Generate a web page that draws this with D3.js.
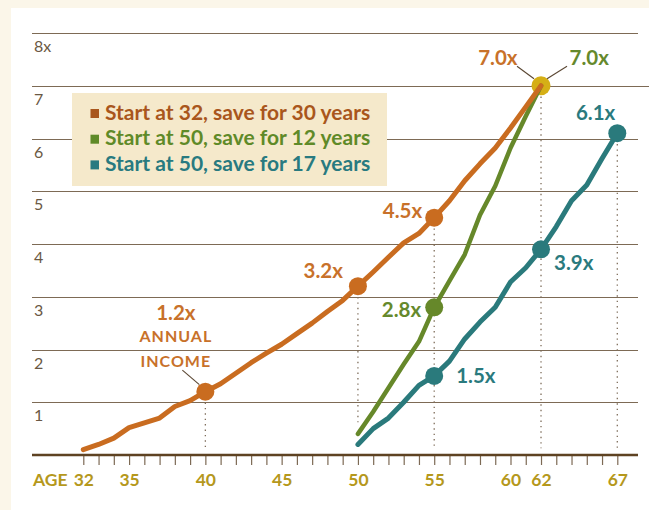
<!DOCTYPE html>
<html>
<head>
<meta charset="utf-8">
<script src="https://cdn.jsdelivr.net/npm/d3@7/dist/d3.min.js"></script>
<style>
  html, body { margin: 0; padding: 0; background: #fbf6e9; }
  svg { display: block; }
  text { font-family: Lato, "Open Sans", sans-serif; }
</style>
</head>
<body>
<svg id="chart" width="649" height="510"></svg>
<script>
// ---------------- DATA ----------------
const ages32 = d3.range(32, 63);               // 32..62
const savings32 = [0.1, 0.2, 0.32, 0.52, 0.61, 0.7, 0.92, 1.03, 1.2, 1.35,
                   1.55, 1.75, 1.93, 2.1, 2.3, 2.5, 2.72, 2.93, 3.2, 3.47,
                   3.75, 4.02, 4.2, 4.5, 4.82, 5.2, 5.52, 5.82, 6.2, 6.6, 7.0];
const ages50a = d3.range(50, 63);              // 50..62
const savings50a = [0.4, 0.82, 1.27, 1.72, 2.15, 2.8, 3.3, 3.8, 4.55, 5.1, 5.82, 6.42, 7.0];
const ages50b = d3.range(50, 68);              // 50..67
const savings50b = [0.2, 0.5, 0.7, 1.0, 1.32, 1.5, 1.78, 2.2, 2.52, 2.8, 3.28, 3.55, 3.9,
                    4.33, 4.82, 5.12, 5.62, 6.1];

const seriesNames = ["Start at 32, save for 30 years",
                     "Start at 50, save for 12 years",
                     "Start at 50, save for 17 years"];
const yTicks = [1, 2, 3, 4, 5, 6, 7, 8];
const yTickLabels = ["1", "2", "3", "4", "5", "6", "7", "8x"];
const xTicks = d3.range(32, 68);
const xTickLabels = [32, 35, 40, 45, 50, 55, 60, 62, 67];

// callouts: [series index, age, value, label]
const callouts = [
  [0, 40, 1.2, "1.2x"],
  [0, 50, 3.2, "3.2x"],
  [0, 55, 4.5, "4.5x"],
  [0, 62, 7.0, "7.0x"],
  [1, 55, 2.8, "2.8x"],
  [1, 62, 7.0, "7.0x"],
  [2, 55, 1.5, "1.5x"],
  [2, 62, 3.9, "3.9x"],
  [2, 67, 6.1, "6.1x"]
];
// dotted guides: [age, from value, to value]
const guides = [[40, 1.2, 0.1], [50, 3.2, 0.62], [55, 4.5, 0.1], [62, 7.0, 0.13], [67, 6.1, 0.13]];

// ---------------- STYLE ----------------
const lineColors = ["#c96c20", "#66882a", "#2a7a7c"];
const legendColors = ["#a9561c", "#5f8a28", "#287a80"];
const labelColors = ["#c8712a", "#65892c", "#2a7a7e"];
const gold = "#d5af16";
const axisGold = "#b5981c";
const gridColor = "#7d6a55";

const svg = d3.select("#chart");
// white panel
svg.append("rect").attr("x", 11).attr("y", 8).attr("width", 638).attr("height", 502).attr("fill", "#ffffff");

const x = d3.scaleLinear().domain([32, 67]).range([83.3, 617.3]);
const y = d3.scaleLinear().domain([0, 8]).range([455, 33]);

// gridlines
svg.append("g").selectAll("line").data(yTicks).join("line")
  .attr("x1", 32).attr("x2", d => d === 7 ? 649 : 638)
  .attr("y1", d => Math.round(y(d)) + 0.5).attr("y2", d => Math.round(y(d)) + 0.5)
  .attr("stroke", gridColor).attr("stroke-width", 1.2);

// y tick labels
svg.append("g").selectAll("text").data(yTicks).join("text")
  .attr("x", 34).attr("y", d => y(d) + 19)
  .attr("font-size", 16).attr("fill", "#6a5843")
  .text((d, i) => yTickLabels[i]);

// x axis ticks
const xAxis = d3.axisBottom(x).tickValues(xTicks).tickSize(10).tickPadding(9)
  .tickFormat(d => xTickLabels.includes(d) ? d : "");
const gx = svg.append("g").attr("transform", `translate(0,${y(0)})`).call(xAxis);
gx.select(".domain").remove();
gx.selectAll(".tick line").attr("stroke", gridColor).attr("stroke-width", 1.2);
gx.selectAll(".tick text").attr("font-size", 17.5).attr("font-weight", 700)
  .attr("fill", axisGold).attr("font-family", "Lato, sans-serif");
// baseline
svg.append("line").attr("x1", 32).attr("x2", 638).attr("y1", y(0)).attr("y2", y(0))
  .attr("stroke", "#5e4222").attr("stroke-width", 2.6);
svg.append("text").attr("x", 33).attr("y", 486).attr("font-size", 17.5).attr("font-weight", 700)
  .attr("fill", axisGold).text("AGE");

// legend
const lg = svg.append("g");
lg.append("rect").attr("x", 72).attr("y", 93).attr("width", 315).attr("height", 93).attr("fill", "#f5e9cb");
seriesNames.forEach((name, i) => {
  const by = 119.5 + i * 25.7;
  lg.append("rect").attr("x", 90.5).attr("y", by - 10.5).attr("width", 8.5).attr("height", 9).attr("fill", legendColors[i]);
  lg.append("text").attr("x", 105).attr("y", by).attr("font-size", 21).attr("font-weight", 700)
    .attr("fill", legendColors[i]).text(name);
});

// dotted guides
svg.append("g").selectAll("line").data(guides).join("line")
  .attr("x1", d => x(d[0])).attr("x2", d => x(d[0]))
  .attr("y1", d => y(d[1])).attr("y2", d => y(d[2]))
  .attr("stroke", "#7f6e5c").attr("stroke-width", 1.3).attr("stroke-dasharray", "1.4,4");

// gold dot under lines
svg.append("circle").attr("cx", x(62)).attr("cy", y(7.0)).attr("r", 9.5).attr("fill", gold);

const line = d3.line().x(d => x(d[0])).y(d => y(d[1])).curve(d3.curveLinear);
const series = [
  d3.zip(ages32, savings32),
  d3.zip(ages50a, savings50a),
  d3.zip(ages50b, savings50b)
];
const widths = [5, 4.5, 5];
[2, 1, 0].forEach(i => {
  svg.append("path").datum(series[i]).attr("d", line)
    .attr("fill", "none").attr("stroke", lineColors[i]).attr("stroke-width", widths[i])
    .attr("stroke-linecap", "round").attr("stroke-linejoin", "round");
});

// dots (excluding the shared 7.0 point)
callouts.filter(c => c[2] !== 7.0).forEach(c => {
  svg.append("circle").attr("cx", x(c[1])).attr("cy", y(c[2])).attr("r", 9).attr("fill", lineColors[c[0]]);
});

// labels
const labelPos = {
  "0-40": {dx: -29.5, dy: -71.5, anchor: "middle"},
  "0-50": {dx: -15, dy: -8, anchor: "end"},
  "0-55": {dx: -12, dy: 0, anchor: "end"},
  "0-62": {dx: -23.5, dy: -21, anchor: "end"},
  "1-55": {dx: -13, dy: 9.5, anchor: "end"},
  "1-62": {dx: 28.5, dy: -21, anchor: "start"},
  "2-55": {dx: 22, dy: 7, anchor: "start"},
  "2-62": {dx: 13, dy: 21, anchor: "start"},
  "2-67": {dx: -2, dy: -13.5, anchor: "end"}
};
callouts.forEach(c => {
  const p = labelPos[c[0] + "-" + c[1]];
  svg.append("text").attr("x", x(c[1]) + p.dx).attr("y", y(c[2]) + p.dy)
    .attr("text-anchor", p.anchor).attr("font-size", 20.5).attr("font-weight", 700)
    .attr("fill", labelColors[c[0]]).text(c[3]);
});
// ANNUAL INCOME note
const px = x(40) - 29.5;
["ANNUAL", "INCOME"].forEach((t, i) => {
  svg.append("text").attr("x", px).attr("y", y(1.2) - 49.5 + i * 24.5)
    .attr("text-anchor", "middle").attr("font-size", 16).attr("font-weight", 700)
    .attr("letter-spacing", 1).attr("fill", labelColors[0]).text(t);
});
// leader lines
const leaders = [
  [x(40) - 23, y(1.2) - 21.5, x(40) - 6, y(1.2) - 7],
  [x(62) - 24, y(7.0) - 19.5, x(62) - 7, y(7.0) - 7],
  [x(62) + 6, y(7.0) - 7, x(62) + 26, y(7.0) - 19.5]
];
svg.append("g").selectAll("line").data(leaders).join("line")
  .attr("x1", d => d[0]).attr("y1", d => d[1]).attr("x2", d => d[2]).attr("y2", d => d[3])
  .attr("stroke", "#5a4632").attr("stroke-width", 1.1);
</script>
</body>
</html>
